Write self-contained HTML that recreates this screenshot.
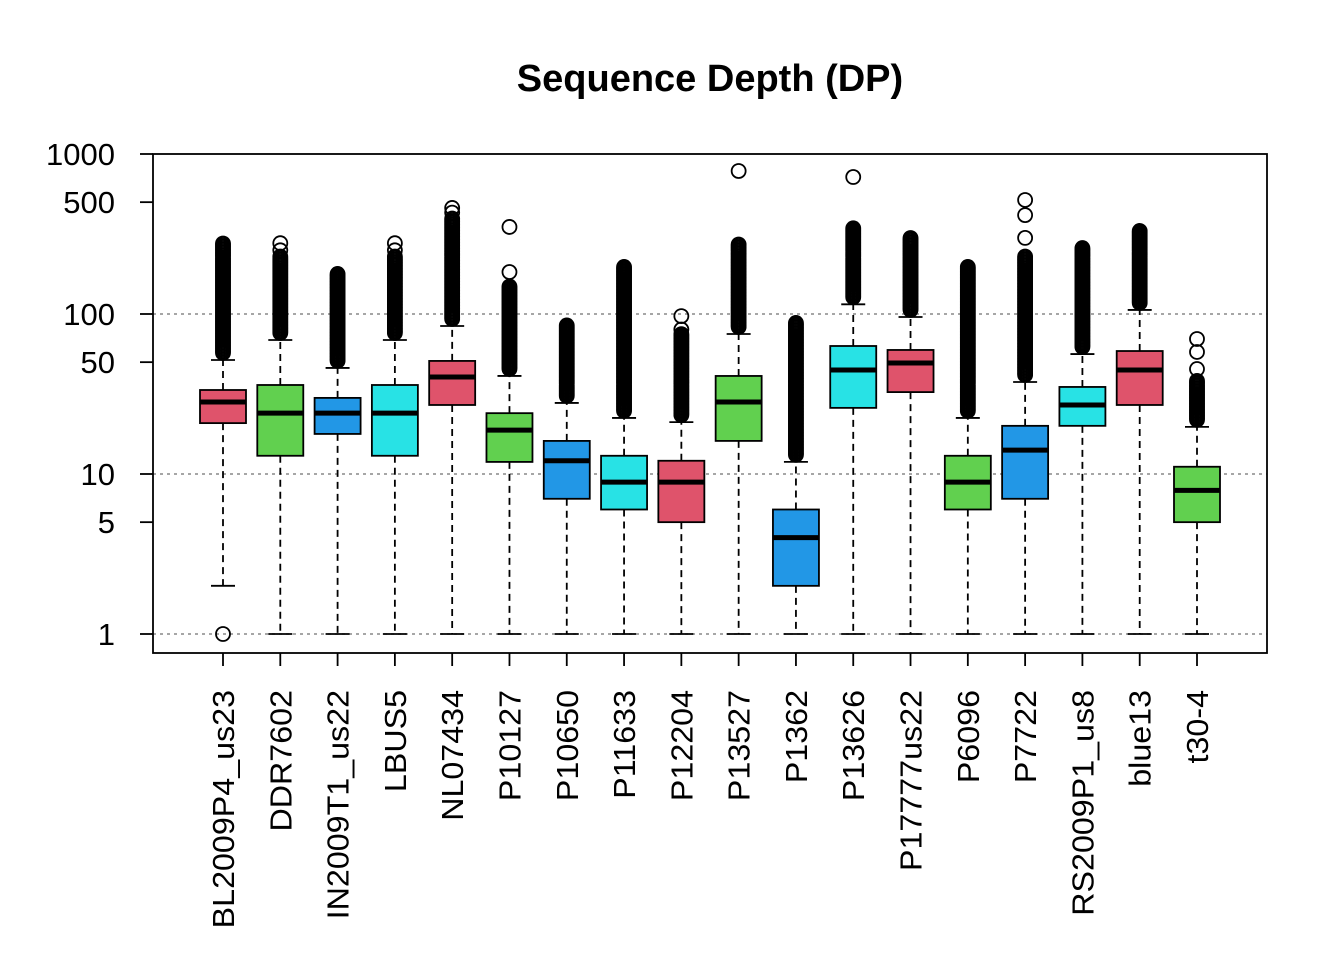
<!DOCTYPE html>
<html><head><meta charset="utf-8"><style>
body{margin:0;background:#fff}
svg text{font-family:"Liberation Sans",Arial,sans-serif}
</style></head><body>
<svg id="chart" width="1344" height="960" xmlns="http://www.w3.org/2000/svg">
<text x="710" y="91" text-anchor="middle" font-size="38" font-weight="bold">Sequence Depth (DP)</text>
<g id="grid"></g><g id="boxes"></g><g id="axes"></g>
<rect x="153" y="154" width="1114" height="499" fill="none" stroke="#000" stroke-width="1.8"/>
</svg>
<script>
const categories=["BL2009P4_us23","DDR7602","IN2009T1_us22","LBUS5","NL07434","P10127","P10650","P11633","P12204","P13527","P1362","P13626","P17777us22","P6096","P7722","RS2009P1_us8","blue13","t30-4"];
const q1=[20.8,13,17.8,13,27,11.9,7,6,5,16.1,2,25.9,32.5,6,7,20,27,5];
const med=[28.2,24,24,24,40.4,18.8,12.1,8.9,8.9,28.2,4,44.7,49.4,8.9,14.1,27,44.7,7.9];
const q3=[33.5,36,29.9,36,50.9,24,16.1,13,12.1,41,6,63.1,59.6,13,20,35,58.7,11.1];
const whiskHi=[51.6,68.8,46,68.8,84.1,41,27.8,22.4,21.1,75,11.9,115,95.8,22.4,37.6,56.2,106,19.7];
const whiskLo=[2,1,1,1,1,1,1,1,1,1,1,1,1,1,1,1,1,1];
const outMax=[277,230,180,230,400,150,85.4,197,75,277,89,350,303,197,230,262,335,38.6];
const extraOut=[[1],[250,277],[],[250,277],[460,430],[183,350],[],[],[80,97],[783],[],[718],[],[],[299,415,516],[],[],[45.3,57.9,69.8]];
const yTicks=[1,5,10,50,100,500,1000];
const gridVals=[1,10,100];
const colors=["#DF536B","#61D04F","#2297E6","#28E2E5"];
const NS="http://www.w3.org/2000/svg";
const X0=153,X1=1267;
function yScale(v){return 634-160*Math.log10(v);}
function xScale(i){return 223+i*(1197-223)/(categories.length-1);}
function mk(tag,attrs,parent){const e=document.createElementNS(NS,tag);for(const k in attrs)e.setAttribute(k,attrs[k]);parent.appendChild(e);return e;}
const grid=document.getElementById('grid'),boxes=document.getElementById('boxes'),axes=document.getElementById('axes');
gridVals.forEach(v=>{
 const l=mk('line',{x1:X0,x2:X1,y1:yScale(v),y2:yScale(v),stroke:'#888','stroke-width':1.6,'stroke-dasharray':'3,4'},grid);
 
 
});
categories.forEach((c,i)=>{
 const x=xScale(i),w=46,col=colors[i%4];
 const g=mk('g',{},boxes);
 
 
 mk('line',{x1:x,x2:x,y1:yScale(q3[i]),y2:yScale(whiskHi[i]),stroke:'#000','stroke-width':1.8,'stroke-dasharray':'7,5'},g);
 mk('line',{x1:x,x2:x,y1:yScale(q1[i]),y2:yScale(whiskLo[i]),stroke:'#000','stroke-width':1.8,'stroke-dasharray':'7,5'},g);
 mk('line',{x1:x-12,x2:x+12,y1:yScale(whiskHi[i]),y2:yScale(whiskHi[i]),stroke:'#000','stroke-width':1.8},g);
 mk('line',{x1:x-12,x2:x+12,y1:yScale(whiskLo[i]),y2:yScale(whiskLo[i]),stroke:'#000','stroke-width':1.8},g);
 mk('rect',{x:x-w/2,y:yScale(q3[i]),width:w,height:yScale(q1[i])-yScale(q3[i]),fill:col,stroke:'#000','stroke-width':1.8},g);
 mk('line',{x1:x-w/2,x2:x+w/2,y1:yScale(med[i]),y2:yScale(med[i]),stroke:'#000','stroke-width':5},g);
 const yTop=yScale(outMax[i]),yBot=yScale(whiskHi[i])-7;
 for(let y=yBot;y>=yTop;y-=1.5){mk('circle',{cx:x,cy:y,r:7,fill:'none',stroke:'#000','stroke-width':1.8},g);}
 extraOut[i].forEach(v=>mk('circle',{cx:x,cy:yScale(v),r:7,fill:'none',stroke:'#000','stroke-width':1.8},g));
 mk('line',{x1:x,x2:x,y1:653,y2:666,stroke:'#000','stroke-width':1.8},axes);
 const t=mk('text',{x:0,y:0,'font-size':31,'text-anchor':'end',transform:`translate(${x+11},690) rotate(-90) scale(1.04,1)`},axes);
 t.textContent=c;
 
 
});
yTicks.forEach(v=>{
 const y=yScale(v);
 mk('line',{x1:140,x2:153,y1:y,y2:y,stroke:'#000','stroke-width':1.8},axes);
 const t=mk('text',{x:115,y:y+11,'font-size':31,'text-anchor':'end'},axes);
 t.textContent=v;
 
 
});
</script>
</body></html>
